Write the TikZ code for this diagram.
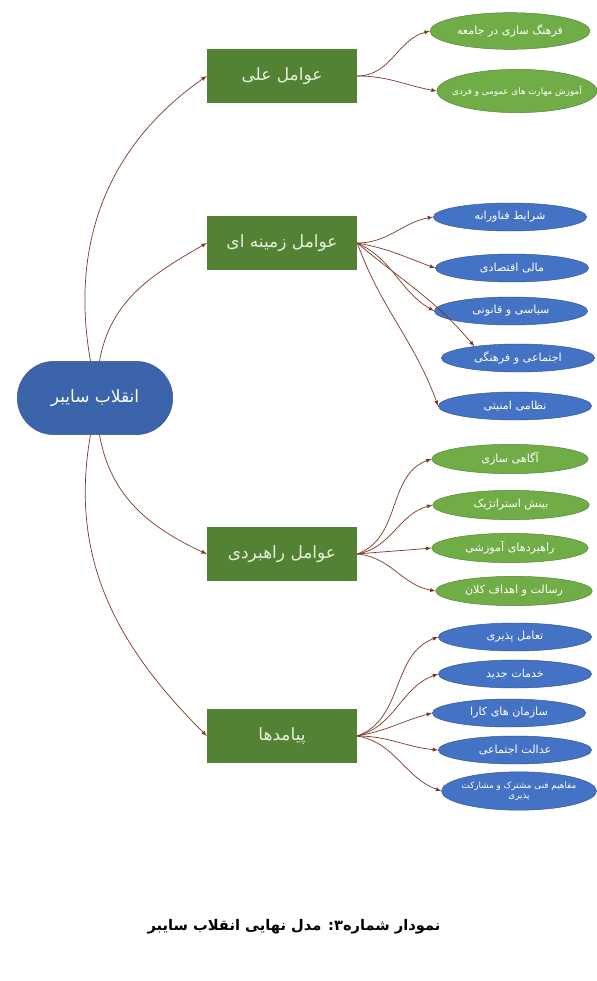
\documentclass[tikz,border=0pt]{standalone}
\usepackage{fontspec}
\newfontfamily\arabicfont[Script=Arabic]{DejaVu Sans}
\TeXXeTstate=1
\usetikzlibrary{shapes.geometric, shapes.misc}
\newcommand{\fatext}[1]{{\arabicfont\beginR #1\endR}}
\definecolor{rootblue}{RGB}{59,100,170}
\definecolor{boxgreen}{RGB}{84,130,53}
\definecolor{boxtext}{RGB}{226,240,217}
\definecolor{leafgreen}{RGB}{112,173,71}
\definecolor{leafblue}{RGB}{68,114,196}
\definecolor{linkbrown}{RGB}{125,55,40}
\begin{document}
\begin{tikzpicture} [x = .03cm, y = -.03cm,
          rootnode/.style = {rounded rectangle, fill = rootblue, draw = rootblue!85!black, text = white,
            minimum width = 4.9cm, minimum height = 2.2cm, font = \fontsize{14.5}{16}\selectfont},
          factor/.style = {rectangle, fill = boxgreen, text = boxtext, minimum width = 4.5cm,
            minimum height = 1.6cm, font = \fontsize{14.5}{16}\selectfont},
          greenleaf/.style = {ellipse, fill = leafgreen, draw = leafgreen!75!black, text = white, inner sep = 0pt,
            minimum width = 4.7cm, minimum height = .88cm, font = \fontsize{9.5}{11}\selectfont},
          blueleaf/.style = {ellipse, fill = leafblue, draw = leafblue!75!black, text = white, inner sep = 0pt,
            minimum width = 4.6cm, minimum height = .84cm, font = \fontsize{9.5}{11}\selectfont},
          arrowlink/.style = {draw = linkbrown, line width = .6pt}]
          \useasboundingbox (0,0) rectangle (597,981);
          \node[rootnode] (root) at (95,398) {\fatext{انقلاب سایبر}};
          \node[factor] (ali) at (282,76) {\fatext{عوامل علی}};
          \node[factor] (zam) at (282,243) {\fatext{عوامل زمینه ای}};
          \node[factor] (rah) at (282,554) {\fatext{عوامل راهبردی}};
          \node[factor] (pay) at (282,736) {\fatext{پیامدها}};
          \node[greenleaf, minimum width = 4.8cm, minimum height = 1.1cm] (a1) at (510,31) {\fatext{فرهنگ سازی در جامعه}};
          \node[greenleaf, minimum width = 4.8cm, minimum height = 1.3cm, font = \fontsize{7.5}{9}\selectfont] (a2) at (517,91) {\makebox[0pt]{\fatext{آموزش مهارت های عمومی و فردی}}};
          \node[blueleaf] (z1) at (510,217) {\fatext{شرایط فناورانه}};
          \node[blueleaf] (z2) at (512,268) {\fatext{مالی اقتصادی}};
          \node[blueleaf] (z3) at (511,311) {\fatext{سیاسی و قانونی}};
          \node[blueleaf] (z4) at (518,358) {\fatext{اجتماعی و فرهنگی}};
          \node[blueleaf] (z5) at (515,406) {\fatext{نظامی امنیتی}};
          \node[greenleaf] (r1) at (510,459) {\fatext{آگاهی سازی}};
          \node[greenleaf] (r2) at (511,505) {\fatext{بینش استراتژیک}};
          \node[greenleaf] (r3) at (510,548) {\fatext{راهبردهای آموزشی}};
          \node[greenleaf] (r4) at (514,591) {\fatext{رسالت و اهداف کلان}};
          \node[blueleaf] (p1) at (515,637) {\fatext{تعامل پذیری}};
          \node[blueleaf] (p2) at (515,674) {\fatext{خدمات جدید}};
          \node[blueleaf] (p3) at (509,713) {\fatext{سازمان های کارا}};
          \node[blueleaf] (p4) at (515,750) {\fatext{عدالت اجتماعی}};
          \node[blueleaf, minimum width = 4.65cm, minimum height = 1.15cm, align = center, font = \fontsize{7.5}{9}\selectfont] (p5) at (519,791) {\makebox[0pt]{\fatext{مفاهیم فنی مشترک و مشارکت}}\\\makebox[0pt]{\fatext{پذیری}}};
          \node[font = \bfseries\fontsize{12.5}{14}\selectfont] (caption) at (294,927) {\fatext{نمودار شماره۳: مدل نهایی انقلاب سایبر}};
          \draw[arrowlink, ->, >= latex] (root.97) to[out = 100, in = 215] (ali.west);
          \draw[arrowlink, ->, >= latex] (root.83) to[out = 80, in = 210] (zam.west);
          \draw[arrowlink, ->, >= latex] (root.-83) to[out = -80, in = 155] (rah.west);
          \draw[arrowlink, ->, >= latex] (root.-97) to[out = -100, in = 135] (pay.west);
          \draw[arrowlink, ->, >= latex] (ali.east) to[out = 0, in = 195] (a1.west);
          \draw[arrowlink, ->, >= latex] (ali.east) to[out = 0, in = 170] (a2.west);
          \draw[arrowlink, ->, >= latex] (zam.east) to[out = 0, in = 190] (z1.west);
          \draw[arrowlink, ->, >= latex] (zam.east) to[out = -10, in = 160] (z2.west);
          \draw[arrowlink, ->, >= latex] (zam.east) to[out = -25, in = 150] (z3.west);
          \draw[arrowlink, ->, >= latex] (zam.east) to[out = -40, in = 130] (z4.165);
          \draw[arrowlink, ->, >= latex] (zam.east) to[out = -70, in = 110] (z5.west);
          \draw[arrowlink, ->, >= latex] (rah.east) to[out = 20, in = 200] (r1.west);
          \draw[arrowlink, ->, >= latex] (rah.east) to[out = 10, in = 195] (r2.west);
          \draw[arrowlink, ->, >= latex] (rah.east) to[out = 5, in = 185] (r3.west);
          \draw[arrowlink, ->, >= latex] (rah.east) to[out = -5, in = 170] (r4.west);
          \draw[arrowlink, ->, >= latex] (pay.east) to[out = 20, in = 200] (p1.west);
          \draw[arrowlink, ->, >= latex] (pay.east) to[out = 15, in = 200] (p2.west);
          \draw[arrowlink, ->, >= latex] (pay.east) to[out = 10, in = 195] (p3.west);
          \draw[arrowlink, ->, >= latex] (pay.east) to[out = 0, in = 175] (p4.west);
          \draw[arrowlink, ->, >= latex] (pay.east) to[out = -10, in = 160] (p5.west);
        \end{tikzpicture}
\end{document}
